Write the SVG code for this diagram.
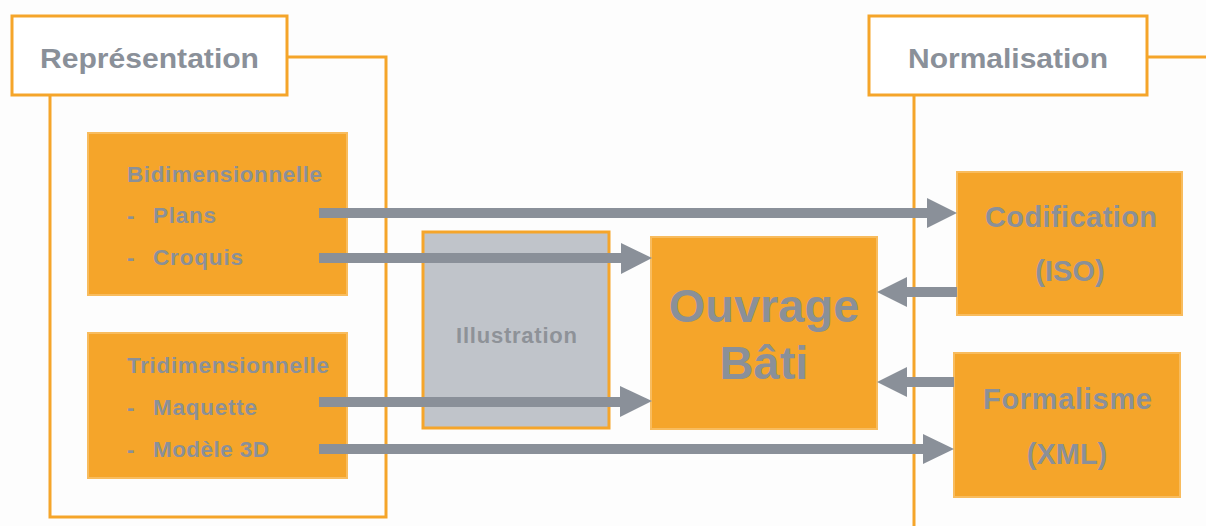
<svg xmlns="http://www.w3.org/2000/svg" width="1206" height="526" viewBox="0 0 1206 526">
<style>
.bg{fill:#FDFDFD}
.frame{fill:none;stroke:#F5A52A;stroke-width:3}
.label{fill:#FFFFFF;stroke:#F5A52A;stroke-width:3}
.box{fill:#F5A52A;stroke:#F8BC5E;stroke-width:2}
.illu{fill:#C0C4CA;stroke:#F5A52A;stroke-width:3}
text{font-family:"Liberation Sans",Arial,sans-serif;font-weight:bold;fill:#8A9099}
.t-label{font-size:28px}
.t-small{font-size:22.5px}
.t-mid{font-size:29px}
.t-big{font-size:47px}
.t-illu{font-size:22px;fill:#8E9298}
.conn line{stroke:#8A9099;stroke-width:10}
.conn polygon{fill:#8A9099}
</style>
<rect class="bg" x="0" y="0" width="1206" height="526"/>

<g id="representation">
  <rect class="frame" x="50" y="57" width="336" height="460"/>
  <rect class="label" x="12" y="16" width="275" height="79"/>
  <text class="t-label" x="40" y="68" textLength="219" lengthAdjust="spacingAndGlyphs">Représentation</text>
</g>

<g id="normalisation">
  <path class="frame" d="M1206 57 H914 V526"/>
  <rect class="label" x="869" y="16" width="278" height="79"/>
  <text class="t-label" x="908" y="68" textLength="200" lengthAdjust="spacingAndGlyphs">Normalisation</text>
</g>

<g id="bidimensionnelle">
  <rect class="box" x="88" y="133" width="259" height="162"/>
  <text class="t-small" x="127" y="182" textLength="195" lengthAdjust="spacing">Bidimensionnelle</text>
  <text class="t-small" x="127" y="223">-</text>
  <text class="t-small" x="153" y="223" textLength="63" lengthAdjust="spacing">Plans</text>
  <text class="t-small" x="127" y="265">-</text>
  <text class="t-small" x="153" y="265" textLength="90" lengthAdjust="spacing">Croquis</text>
</g>

<g id="tridimensionnelle">
  <rect class="box" x="88" y="333" width="259" height="145"/>
  <text class="t-small" x="127" y="373" textLength="202" lengthAdjust="spacing">Tridimensionnelle</text>
  <text class="t-small" x="127" y="415">-</text>
  <text class="t-small" x="153" y="415" textLength="104" lengthAdjust="spacing">Maquette</text>
  <text class="t-small" x="127" y="457">-</text>
  <text class="t-small" x="153" y="457" textLength="116" lengthAdjust="spacing">Modèle 3D</text>
</g>

<g id="illustration">
  <rect class="illu" x="423" y="232" width="186" height="196"/>
  <text class="t-illu" x="456" y="343" textLength="121" lengthAdjust="spacing">Illustration</text>
</g>

<g id="ouvrage">
  <rect class="box" x="651" y="237" width="226" height="192"/>
  <text class="t-big" x="764" y="322" text-anchor="middle">Ouvrage</text>
  <text class="t-big" x="764" y="379" text-anchor="middle">Bâti</text>
</g>

<g id="codification">
  <rect class="box" x="957" y="172" width="225" height="143"/>
  <text class="t-mid" x="985" y="227" textLength="172" lengthAdjust="spacing">Codification</text>
  <text class="t-mid" x="1070" y="281" text-anchor="middle">(ISO)</text>
</g>

<g id="formalisme">
  <rect class="box" x="954" y="353" width="226" height="144"/>
  <text class="t-mid" x="983" y="409" textLength="169" lengthAdjust="spacing">Formalisme</text>
  <text class="t-mid" x="1067" y="464" text-anchor="middle">(XML)</text>
</g>

<g id="connectors" class="conn">
  <line x1="319" y1="213" x2="929" y2="213"/>
  <polygon points="927,198 957,213 927,228"/>
  <line x1="319" y1="258" x2="623" y2="258"/>
  <polygon points="621,243 652,258 621,274"/>
  <line x1="319" y1="402" x2="622" y2="402"/>
  <polygon points="620,386 652,401 620,417"/>
  <line x1="319" y1="449" x2="925" y2="449"/>
  <polygon points="923,434 954,449 923,464"/>
  <line x1="957" y1="292" x2="905" y2="292"/>
  <polygon points="907,277 877,292 907,307"/>
  <line x1="954" y1="382" x2="905" y2="382"/>
  <polygon points="907,367 877,382 907,397"/>
</g>
</svg>
